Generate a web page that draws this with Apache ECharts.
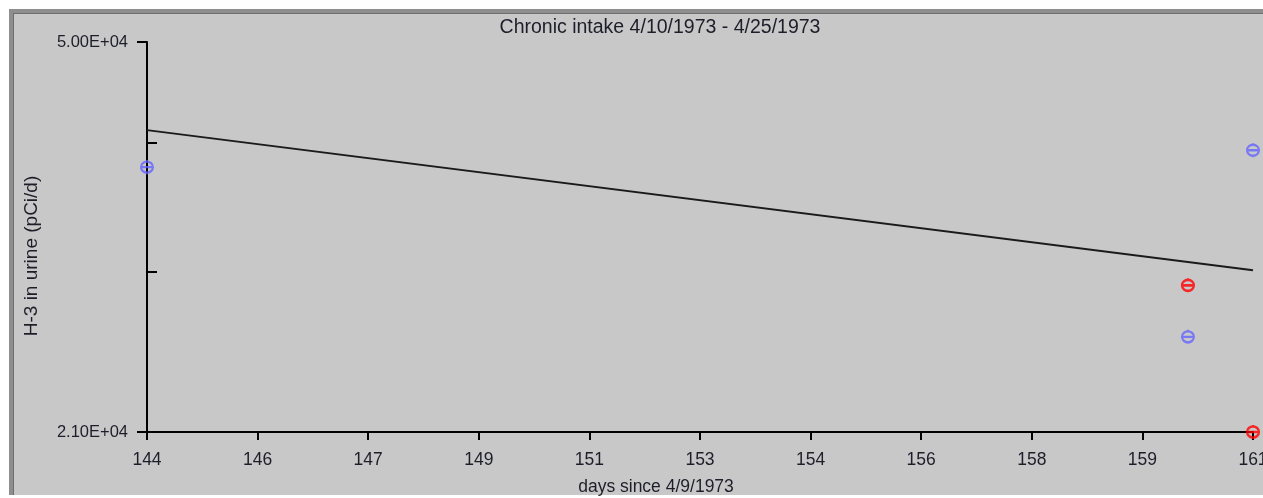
<!DOCTYPE html>
<html>
<head>
<meta charset="utf-8">
<script src="https://cdn.jsdelivr.net/npm/echarts@6/dist/echarts.min.js"></script>
<style>
html,body{margin:0;padding:0;background:#fff;width:1263px;height:498px;overflow:hidden;}
#panel{position:absolute;left:9px;top:9px;width:1250px;height:482px;background:#c8c8c8;
  border-top:4px solid #8e8e8e;border-left:4px solid #8e8e8e;box-shadow:inset 1px 1px 0 #6e6e6e;}
#chart{position:absolute;left:0;top:0;width:1263px;height:498px;}
</style>
</head>
<body>
<div id="panel"></div>
<div id="chart"></div>
<script>
// ---- data ----
const titleText = 'Chronic intake 4/10/1973 - 4/25/1973';
const xName = 'days since 4/9/1973';
const yName = 'H-3 in urine (pCi/d)';
const xMin = 144, xMax = 161, xStep = 1.7;
const yMin = 21000, yMax = 50000;
const yMinorTicks = [30000, 40000];
// measured points (blue)
const blueDays = [144, 160, 161];
const blueValues = [37850, 25950, 39300];
// measured points (red)
const redDays = [160, 161];
const redValues = [29100, 21000];
// fitted chronic-intake curve
const fitDays = [144, 161];
const fitValues = [41100, 30100];

const FONT = '"Liberation Sans", Arial, sans-serif';
const TXT = '#1e1e2a';

function sci(v){
  const e = Math.floor(Math.log10(v) + 1e-9);
  const m = (v / Math.pow(10, e)).toFixed(2);
  return m + 'E+' + String(e).padStart(2, '0');
}
const markerPath = 'path://M1,7A5,5.5 0 1,1 11,7A5,5.5 0 1,1 1,7Z M1,7L11,7 M6,0L6,1.5 M6,12.5L6,14';

const chart = echarts.init(document.getElementById('chart'), null, {renderer:'canvas'});
chart.setOption({
  animation:false,
  backgroundColor:'transparent',
  grid:{left:147, right:10, top:42, bottom:66, containLabel:false, outerBoundsMode:'none'},
  graphic:[
    {type:'text', x:660, y:28, style:{text:titleText, font:'19.5px '+FONT, fill:TXT, align:'center', verticalAlign:'middle'}},
    {type:'text', x:656, y:487, style:{text:xName, font:'17.5px '+FONT, fill:TXT, align:'center', verticalAlign:'middle'}},
    {type:'text', x:32, y:256, rotation:Math.PI/2, style:{text:yName, font:'19px '+FONT, fill:TXT, align:'center', verticalAlign:'middle'}}
  ],
  xAxis:{
    type:'value', min:xMin, max:xMax, interval:xStep,
    axisLine:{show:true, lineStyle:{color:'#000', width:2}},
    axisTick:{show:true, length:8, lineStyle:{color:'#000', width:2}},
    axisLabel:{margin:19, color:TXT, fontSize:17.5, fontFamily:FONT,
      formatter:v=>String(Math.round(v+1e-6)), showMinLabel:true, showMaxLabel:true},
    splitLine:{show:false}
  },
  yAxis:[{
    type:'log', min:yMin, max:yMax, logBase:10,
    axisLine:{show:true, lineStyle:{color:'#000', width:2}},
    axisTick:{show:true, length:10, lineStyle:{color:'#000', width:2}},
    axisLabel:{margin:19, color:TXT, fontSize:16.5, fontFamily:FONT,
      formatter:v=>(Math.abs(v-yMin)<1||Math.abs(v-yMax)<1)?sci(v):'', showMinLabel:true, showMaxLabel:true},
    splitLine:{show:false}, minorTick:{show:false}
  },{
    type:'value', position:'left', offset:0,
    min:Math.log10(yMin), max:Math.log10(yMax),
    axisLine:{show:false},
    axisTick:{show:true, inside:true, length:10, lineStyle:{color:'#000', width:2},
      customValues:yMinorTicks.map(v=>Math.log10(v))},
    axisLabel:{show:false},
    splitLine:{show:false}
  }],
  series:[
    {type:'line', yAxisIndex:0, data:fitDays.map((d,i)=>[d, fitValues[i]]),
     showSymbol:false, symbol:'none', lineStyle:{color:'#1a1a1a', width:2}, z:3},
    {type:'scatter', yAxisIndex:0, data:blueDays.map((d,i)=>[d, blueValues[i]]), clip:false,
     symbol:markerPath, symbolSize:[12,14],
     itemStyle:{color:'rgba(0,0,0,0)', borderColor:'#6464ff', borderWidth:2.2}, z:5},
    {type:'scatter', yAxisIndex:0, data:redDays.map((d,i)=>[d, redValues[i]]), clip:false,
     symbol:markerPath, symbolSize:[12,14],
     itemStyle:{color:'rgba(0,0,0,0)', borderColor:'#ff0000', borderWidth:2.4}, z:6}
  ]
});
</script>
</body>
</html>
